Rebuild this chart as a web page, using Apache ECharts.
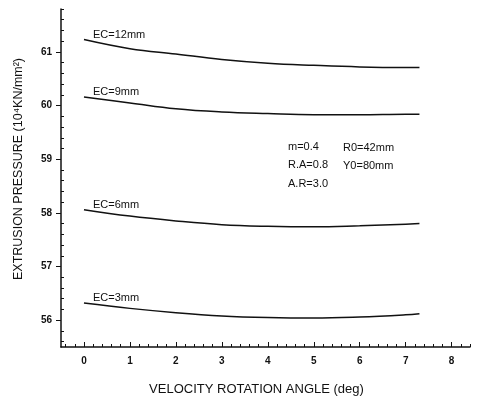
<!DOCTYPE html>
<html>
<head>
<meta charset="utf-8">
<script src="https://cdn.jsdelivr.net/npm/echarts@6/dist/echarts.min.js"></script>
<style>
  html, body { margin: 0; padding: 0; background: #fff; }
  #chart { width: 479px; height: 401px; }
</style>
</head>
<body>
<div id="chart"></div>
<script>
// rotation angle samples (deg)
const angles = [0, 1, 2, 3, 4, 5, 6, 7, 7.3];

// extrusion pressure per eccentricity
const ec12 = [61.23, 61.06, 60.96, 60.86, 60.79, 60.75, 60.72, 60.71, 60.71];
const ec9 = [60.16, 60.05, 59.94, 59.88, 59.85, 59.83, 59.83, 59.84, 59.84];
const ec6 = [58.06, 57.94, 57.85, 57.78, 57.75, 57.74, 57.76, 57.79, 57.80];
const ec3 = [56.32, 56.22, 56.14, 56.08, 56.05, 56.04, 56.06, 56.10, 56.12];

const curveNames = ['EC=12mm', 'EC=9mm', 'EC=6mm', 'EC=3mm'];
const curves = [ec12, ec9, ec6, ec3];

const xTicks = [0, 1, 2, 3, 4, 5, 6, 7, 8];
const yTicks = [56, 57, 58, 59, 60, 61];

// process parameters printed inside the plot
const paramsLeft = ['m=0.4', 'R.A=0.8', 'A.R=3.0'];
const paramsRight = ['R0=42mm', 'Y0=80mm'];

const X_MIN = -0.5, X_MAX = 8.4;
const Y_MIN = 55.5, Y_MAX = 61.8;

// minor tick positions, 5 per unit
function minorTicks(lo, hi) {
  const out = [];
  for (let v = Math.ceil(lo * 5); v <= Math.floor(hi * 5); v++) {
    if (v % 5 !== 0) out.push(v / 5);
  }
  return out;
}

const font = 'Liberation Sans, Arial, sans-serif';

const chart = echarts.init(document.getElementById('chart'));

const series = curves.map((vals, i) => ({
  type: 'line',
  name: curveNames[i],
  data: angles.map((a, k) => [a, vals[k]]),
  smooth: 0.4,
  symbol: 'circle',
  symbolSize: 0,
  showSymbol: true,
  lineStyle: { color: '#111', width: 1.5 },
  itemStyle: { color: '#111' },
  label: {
    show: true,
    position: 'right',
    distance: 0,
    offset: [9, -5],
    fontFamily: font,
    fontSize: 11,
    color: '#111',
    formatter: p => p.dataIndex === 0 ? curveNames[i] : ''
  },
  emphasis: { disabled: true },
  animation: false
}));

const paramText = [];
paramsLeft.forEach((t, i) => paramText.push({ text: t, left: 288, top: 141 + i * 18.5 }));
paramsRight.forEach((t, i) => paramText.push({ text: t, left: 343, top: 142 + i * 18.5 }));

chart.setOption({
  backgroundColor: '#fff',
  animation: false,
  grid: { left: 61, right: 9, top: 9, bottom: 53 },
  xAxis: [
    {
      type: 'value',
      min: X_MIN,
      max: X_MAX,
      name: 'VELOCITY ROTATION ANGLE (deg)',
      nameLocation: 'middle',
      nameGap: 36,
      nameTextStyle: { fontFamily: font, fontSize: 13, color: '#111', padding: [0, 18, 0, 0] },
      splitLine: { show: false },
      axisLine: { onZero: false, lineStyle: { color: '#111', width: 1.5 } },
      axisTick: { customValues: xTicks, inside: true, length: 5, lineStyle: { color: '#111' } },
      axisLabel: {
        customValues: xTicks,
        margin: 9,
        fontFamily: font,
        fontSize: 10,
        fontWeight: 'bold',
        color: '#111'
      }
    },
    {
      type: 'value',
      min: X_MIN,
      max: X_MAX,
      position: 'bottom',
      splitLine: { show: false },
      axisLine: { show: false, onZero: false },
      axisTick: { customValues: minorTicks(X_MIN, X_MAX), inside: true, length: 3, lineStyle: { color: '#111' } },
      axisLabel: { show: false }
    }
  ],
  yAxis: [
    {
      type: 'value',
      min: Y_MIN,
      max: Y_MAX,
      name: 'EXTRUSION PRESSURE (10⁴KN/mm²)',
      nameLocation: 'middle',
      nameGap: 36,
      nameTextStyle: { fontFamily: font, fontSize: 12.5, color: '#111', padding: [0, 0, 0, 18] },
      splitLine: { show: false },
      axisLine: { onZero: false, lineStyle: { color: '#111', width: 1.5 } },
      axisTick: { customValues: yTicks, length: 5, lineStyle: { color: '#111' } },
      axisLabel: {
        customValues: yTicks,
        margin: 9,
        fontFamily: font,
        fontSize: 10,
        fontWeight: 'bold',
        color: '#111'
      }
    },
    {
      type: 'value',
      min: Y_MIN,
      max: Y_MAX,
      position: 'left',
      splitLine: { show: false },
      axisLine: { show: false, onZero: false },
      axisTick: { customValues: minorTicks(Y_MIN, Y_MAX), inside: true, length: 3, lineStyle: { color: '#111' } },
      axisLabel: { show: false }
    }
  ],
  graphic: paramText.map(p => ({
    type: 'text',
    left: p.left,
    top: p.top,
    style: { text: p.text, font: '11px ' + font, fill: '#111' }
  })),
  series: series
});
</script>
</body>
</html>
